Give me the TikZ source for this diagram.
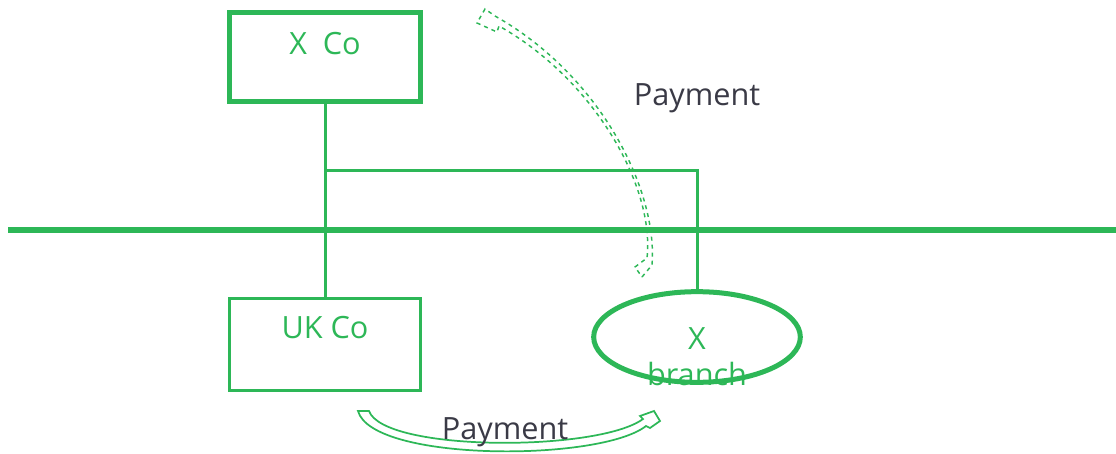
\documentclass[tikz,border=0pt]{standalone}
\usepackage{fontspec}
\setmainfont{Open Sans}
\usetikzlibrary{shapes, arrows.meta, positioning}
\definecolor{eygreen}{RGB}{45,183,87}
\definecolor{txtgray}{RGB}{58,58,70}

\begin{document}
\begin{tikzpicture}[x=0.75pt, y=-0.75pt, font=\fontsize{23}{27}\selectfont,
  entity/.style={draw=eygreen, rectangle, minimum width=143pt, minimum height=67pt, inner sep=0pt},
  gtext/.style={text=eygreen, inner sep=0pt, align=center},
  conn/.style={draw=eygreen, line width=2.25pt}]
\useasboundingbox (0,0) rectangle (1116,453);

% 实体
\node[entity, line width=3.75pt] (xco) at (325,57) {};
\node[entity, line width=2.25pt, minimum height=69pt] (ukco) at (325,344) {};
\node[draw=eygreen, ellipse, line width=3.75pt, minimum width=155pt, minimum height=68pt] (xbr) at (697,337) {};
\node[gtext, below=17pt of xco.north] (xcolbl) {X\ \ Co};
\node[gtext, below=15pt of ukco.north] (ukcolbl) {UK Co};
\node[gtext] (xbrlbl) at (697,357) {X\\branch};

% 连线
\coordinate (tee) at (325,170);
\coordinate (corner) at (697,170);
\draw[conn] (xco.south) -- (ukco.north);
\draw[conn] (tee) -- (corner) -- (xbr.north);

% 边界
\draw[eygreen, line width=4.5pt] (8,230) -- (1116,230);

% 付款 (虚线)
\draw[eygreen, dashed, line width=1.1pt]
  (642,277) -- (652,265) .. controls (658,190) and (600,75) .. (495,16)
  -- (485,9) -- (477,23) -- (497,32) -- (499,26)
  .. controls (592,78) and (655,185) .. (647,258) -- (635,267) -- cycle;
\node[text=txtgray] (pay1) at (697,98) {Payment};

% 付款 (实线)
\draw[eygreen, line width=1.3pt, fill=white]
  (358,411) .. controls (372,462) and (600,462) .. (646,426)
  -- (650,428) -- (660,421) -- (654,411) -- (640,416) -- (643,419)
  .. controls (598,452) and (384,452) .. (369,411) -- cycle;
\node[text=txtgray] (pay2) at (505,432) {Payment};
\end{tikzpicture}
\end{document}
